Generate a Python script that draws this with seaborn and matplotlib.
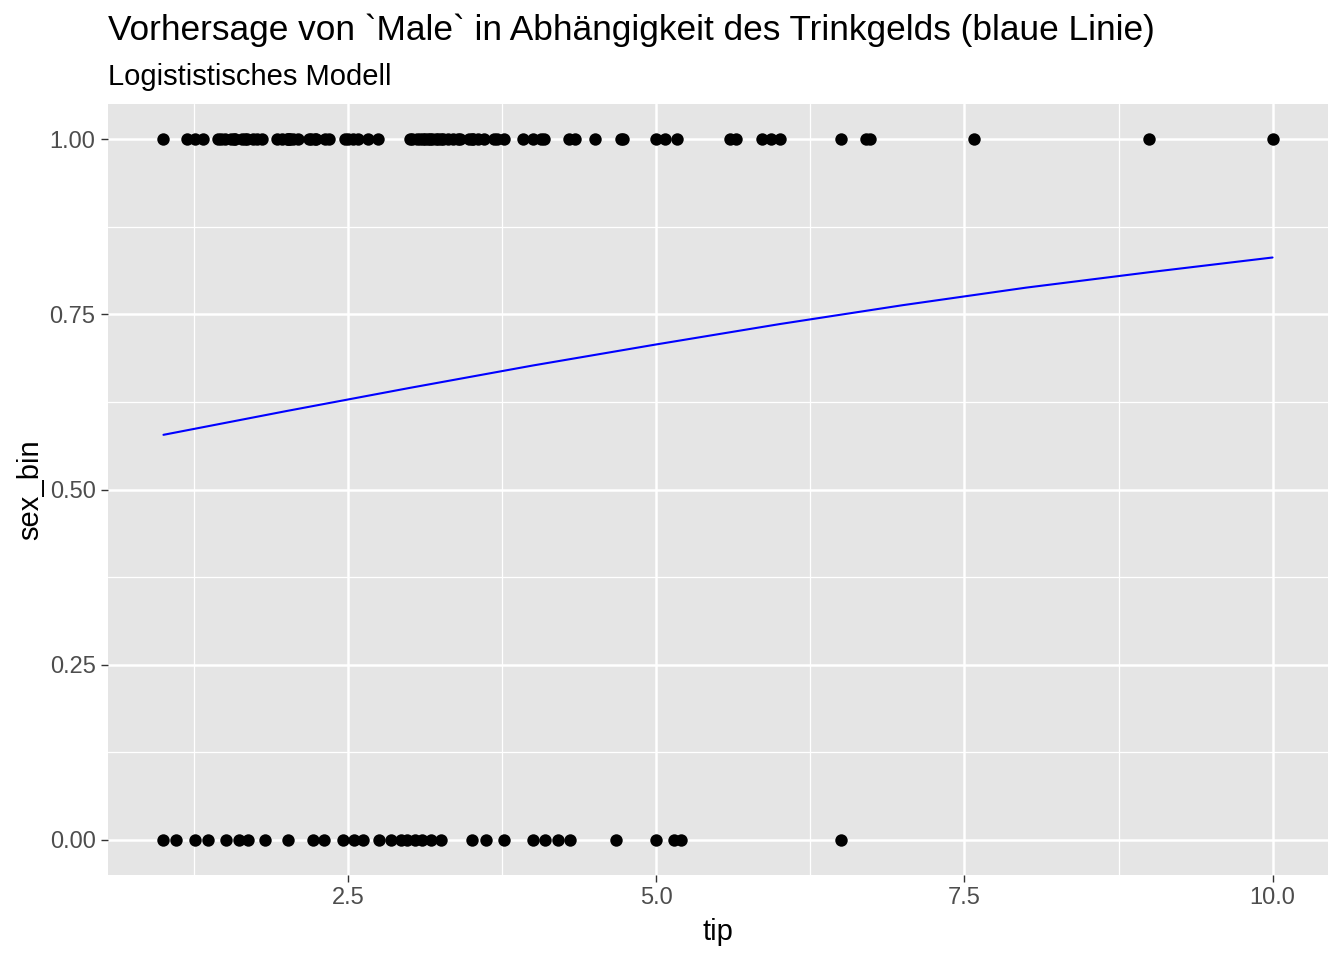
import matplotlib
matplotlib.use('Agg')
import matplotlib.pyplot as plt
from matplotlib.ticker import FixedLocator
import seaborn as sns
import pandas as pd

# Trinkgelder, getrennt nach sex_bin
male_tips = [1.00, 1.19, 1.26, 1.32, 1.44, 1.47, 1.50, 1.55, 1.57, 1.58, 1.64, 1.66,
             1.68, 1.73, 1.76, 1.80, 1.92, 1.96, 2.00, 2.01, 2.02, 2.03, 2.05, 2.09,
             2.18, 2.20, 2.23, 2.24, 2.31, 2.34, 2.47, 2.50, 2.54, 2.58, 2.66, 2.74,
             3.00, 3.02, 3.06, 3.08, 3.11, 3.12, 3.15, 3.16, 3.18, 3.21, 3.23, 3.25,
             3.27, 3.31, 3.35, 3.39, 3.41, 3.48, 3.50, 3.51, 3.55, 3.60, 3.68, 3.71,
             3.76, 3.92, 4.00, 4.06, 4.09, 4.29, 4.34, 4.50, 4.71, 4.73, 5.00, 5.07,
             5.17, 5.60, 5.65, 5.86, 5.93, 6.00, 6.50, 6.70, 6.73, 7.58, 9.00, 10.00]
female_tips = [1.00, 1.10, 1.26, 1.36, 1.51, 1.61, 1.69, 1.82, 2.01, 2.21, 2.30, 2.46,
               2.55, 2.62, 2.75, 2.85, 2.93, 2.98, 3.04, 3.10, 3.17, 3.25, 3.50, 3.62,
               3.76, 4.00, 4.10, 4.20, 4.30, 4.67, 5.00, 5.14, 5.20, 6.50]

# vorhergesagte Wahrscheinlichkeit (blaue Linie)
fit_tip = [1.0, 2.0, 3.0, 4.0, 5.0, 6.0, 7.0, 8.0, 9.0, 10.0]
fit_prob = [0.578, 0.612, 0.645, 0.677, 0.707, 0.736, 0.763, 0.788, 0.810, 0.831]

df = pd.DataFrame({
    'tip': male_tips + female_tips,
    'sex_bin': [1.0] * len(male_tips) + [0.0] * len(female_tips),
})
fit = pd.DataFrame({'tip': fit_tip, 'prob': fit_prob})

sns.set_theme(style='darkgrid', rc={
    'axes.facecolor': '#E5E5E5',
    'grid.color': 'white',
    'axes.edgecolor': '#E5E5E5',
})
plt.rcParams['font.family'] = ['Liberation Sans', 'DejaVu Sans']

fig = plt.figure(figsize=(13.44, 9.6), dpi=100)
ax = fig.add_axes([108 / 1344, 1 - 875 / 960, (1328 - 108) / 1344, (875 - 104) / 960])

sns.scatterplot(data=df, x='tip', y='sex_bin', ax=ax, color='black', s=80,
                linewidth=0, zorder=3)
sns.lineplot(data=fit, x='tip', y='prob', ax=ax, color='blue', linewidth=1.5, zorder=2)

ax.set_xlim(0.55, 10.45)
ax.set_ylim(-0.05, 1.05)
ax.xaxis.set_major_locator(FixedLocator([2.5, 5.0, 7.5, 10.0]))
ax.xaxis.set_minor_locator(FixedLocator([1.25, 3.75, 6.25, 8.75]))
ax.yaxis.set_major_locator(FixedLocator([0.0, 0.25, 0.5, 0.75, 1.0]))
ax.yaxis.set_minor_locator(FixedLocator([0.125, 0.375, 0.625, 0.875]))
ax.set_xticklabels(['2.5', '5.0', '7.5', '10.0'])
ax.set_yticklabels(['0.00', '0.25', '0.50', '0.75', '1.00'])
ax.grid(True, which='major', color='white', linewidth=1.8)
ax.grid(True, which='minor', color='white', linewidth=0.9)
ax.tick_params(which='major', length=5, width=1.0, color='#333333',
               labelsize=17, labelcolor='#4D4D4D', pad=4, bottom=True, left=True)
ax.tick_params(which='minor', length=0)
for sp in ax.spines.values():
    sp.set_visible(False)

ax.set_xlabel('tip', fontsize=21, color='black', labelpad=6)
ax.set_ylabel('sex_bin', fontsize=21, color='black', labelpad=4)

fig.text(108 / 1344, 1 - 40 / 960,
         'Vorhersage von `Male` in Abhängigkeit des Trinkgelds (blaue Linie)',
         fontsize=25.4, color='black', va='baseline', ha='left')
fig.text(108 / 1344, 1 - 85 / 960, 'Logististisches Modell',
         fontsize=21, color='black', va='baseline', ha='left')

fig.savefig('out.png', dpi=100)
